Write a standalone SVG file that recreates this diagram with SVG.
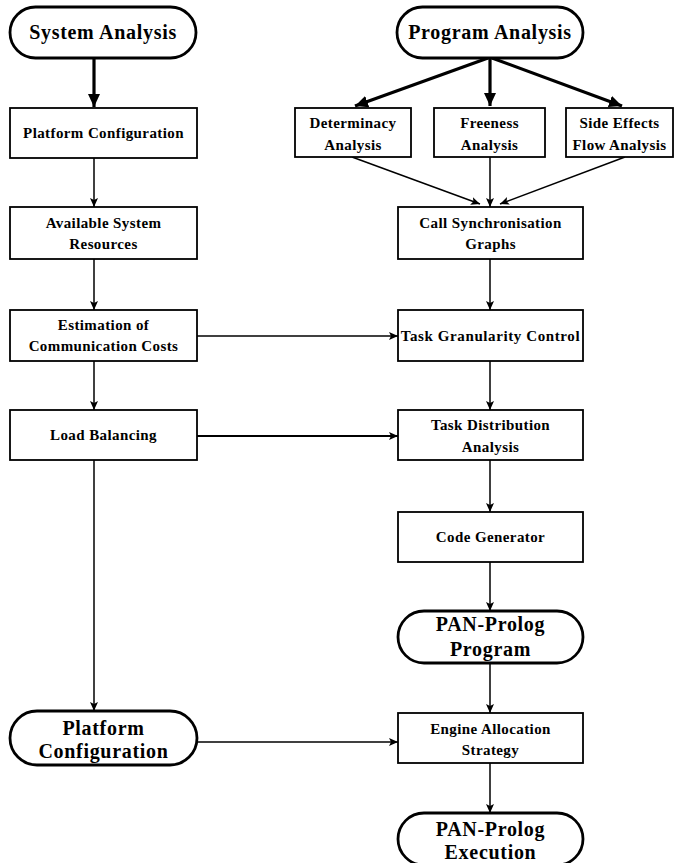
<svg xmlns="http://www.w3.org/2000/svg" width="675" height="863" viewBox="0 0 675 863">
<style>
.box{fill:#fff;stroke:#000;stroke-width:1.8}
.pill{fill:#fff;stroke:#000;stroke-width:2.8}
.t{font-family:"Liberation Serif","Times New Roman",serif;font-weight:bold;font-size:15px;letter-spacing:0.4px;text-anchor:middle;fill:#000}
.tl{font-family:"Liberation Serif","Times New Roman",serif;font-weight:bold;font-size:20px;letter-spacing:0.7px;text-anchor:middle;fill:#000}
.c{fill:none;stroke:#000;stroke-width:1.5}
.ck{fill:none;stroke:#000;stroke-width:3.2}
</style>
<defs>
<marker id="a" markerUnits="userSpaceOnUse" markerWidth="10" markerHeight="8" refX="9" refY="4" orient="auto">
<path d="M0,0 L9,4 L0,8 L2,4 Z" fill="#000"/>
</marker>
<marker id="ak" markerUnits="userSpaceOnUse" markerWidth="14" markerHeight="12" refX="13" refY="6" orient="auto">
<path d="M0,0 L13,6 L0,12 Z" fill="#000"/>
</marker>
</defs>
<g id="connectors">
<line class="ck" x1="94" y1="58" x2="94" y2="107" marker-end="url(#ak)"/>
<line class="ck" x1="488" y1="58" x2="355" y2="106" marker-end="url(#ak)"/>
<line class="ck" x1="490" y1="58" x2="490" y2="106" marker-end="url(#ak)"/>
<line class="ck" x1="492" y1="58" x2="622" y2="106" marker-end="url(#ak)"/>
<line class="c" x1="94" y1="158" x2="94" y2="207" marker-end="url(#a)"/>
<line class="c" x1="94" y1="259" x2="94" y2="310" marker-end="url(#a)"/>
<line class="c" x1="94" y1="361" x2="94" y2="410" marker-end="url(#a)"/>
<line class="c" x1="94" y1="460" x2="94" y2="711" marker-end="url(#a)"/>
<line class="c" x1="352" y1="157" x2="480" y2="204" marker-end="url(#a)"/>
<line class="c" x1="490" y1="157" x2="490" y2="207" marker-end="url(#a)"/>
<line class="c" x1="625" y1="157" x2="500" y2="204" marker-end="url(#a)"/>
<line class="c" x1="490" y1="259" x2="490" y2="310" marker-end="url(#a)"/>
<line class="c" x1="490" y1="361" x2="490" y2="410" marker-end="url(#a)"/>
<line class="c" x1="490" y1="460" x2="490" y2="512" marker-end="url(#a)"/>
<line class="c" x1="490" y1="562" x2="490" y2="611" marker-end="url(#a)"/>
<line class="c" x1="490" y1="663" x2="490" y2="713" marker-end="url(#a)"/>
<line class="c" x1="490" y1="763" x2="490" y2="813" marker-end="url(#a)"/>
<line class="c" x1="197" y1="336" x2="398" y2="336" marker-end="url(#a)"/>
<line class="c" x1="197" y1="436" x2="398" y2="436" style="stroke-width:1.9" marker-end="url(#a)"/>
<line class="c" x1="197" y1="742" x2="398" y2="742" marker-end="url(#a)"/>
</g>
<g id="system-analysis">
<rect class="pill" x="10" y="7" width="186" height="51" rx="25.5"/>
<text class="tl" x="103" y="39">System Analysis</text>
</g>
<g id="program-analysis">
<rect class="pill" x="397" y="7" width="186" height="51" rx="25.5"/>
<text class="tl" x="490" y="39">Program Analysis</text>
</g>
<g id="platform-configuration-box">
<rect class="box" x="10" y="108" width="187" height="50"/>
<text class="t" x="103.5" y="138">Platform Configuration</text>
</g>
<g id="determinacy">
<rect class="box" x="295" y="108" width="116" height="49"/>
<text class="t" x="353" y="128">Determinacy</text>
<text class="t" x="353" y="150">Analysis</text>
</g>
<g id="freeness">
<rect class="box" x="434" y="108" width="111" height="49"/>
<text class="t" x="489.5" y="128">Freeness</text>
<text class="t" x="489.5" y="150">Analysis</text>
</g>
<g id="side-effects">
<rect class="box" x="566" y="108" width="107" height="49"/>
<text class="t" x="619.5" y="128">Side Effects</text>
<text class="t" x="619.5" y="150">Flow Analysis</text>
</g>
<g id="available-resources">
<rect class="box" x="10" y="207" width="187" height="52"/>
<text class="t" x="103.5" y="228">Available System</text>
<text class="t" x="103.5" y="249">Resources</text>
</g>
<g id="call-sync">
<rect class="box" x="398" y="207" width="185" height="52"/>
<text class="t" x="490.5" y="228">Call Synchronisation</text>
<text class="t" x="490.5" y="249">Graphs</text>
</g>
<g id="estimation">
<rect class="box" x="10" y="310" width="187" height="51"/>
<text class="t" x="103.5" y="330">Estimation of</text>
<text class="t" x="103.5" y="351">Communication Costs</text>
</g>
<g id="task-granularity">
<rect class="box" x="398" y="310" width="185" height="51"/>
<text class="t" x="490.5" y="341" style="letter-spacing:0.6px">Task Granularity Control</text>
</g>
<g id="load-balancing">
<rect class="box" x="10" y="410" width="187" height="50"/>
<text class="t" x="103.5" y="440">Load Balancing</text>
</g>
<g id="task-distribution">
<rect class="box" x="398" y="410" width="185" height="50"/>
<text class="t" x="490.5" y="430">Task Distribution</text>
<text class="t" x="490.5" y="452">Analysis</text>
</g>
<g id="code-generator">
<rect class="box" x="398" y="512" width="185" height="50"/>
<text class="t" x="490.5" y="542">Code Generator</text>
</g>
<g id="pan-prolog-program">
<rect class="pill" x="398" y="611" width="185" height="52" rx="26"/>
<text class="tl" x="490.5" y="631">PAN-Prolog</text>
<text class="tl" x="490.5" y="656">Program</text>
</g>
<g id="platform-configuration-pill">
<rect class="pill" x="10" y="711" width="187" height="54" rx="27"/>
<text class="tl" x="103.5" y="735">Platform</text>
<text class="tl" x="103.5" y="758">Configuration</text>
</g>
<g id="engine-allocation">
<rect class="box" x="398" y="713" width="185" height="50"/>
<text class="t" x="490.5" y="734">Engine Allocation</text>
<text class="t" x="490.5" y="755">Strategy</text>
</g>
<g id="pan-prolog-execution">
<rect class="pill" x="398" y="813" width="185" height="52" rx="26"/>
<text class="tl" x="490.5" y="836">PAN-Prolog</text>
<text class="tl" x="490.5" y="859">Execution</text>
</g>
</svg>
